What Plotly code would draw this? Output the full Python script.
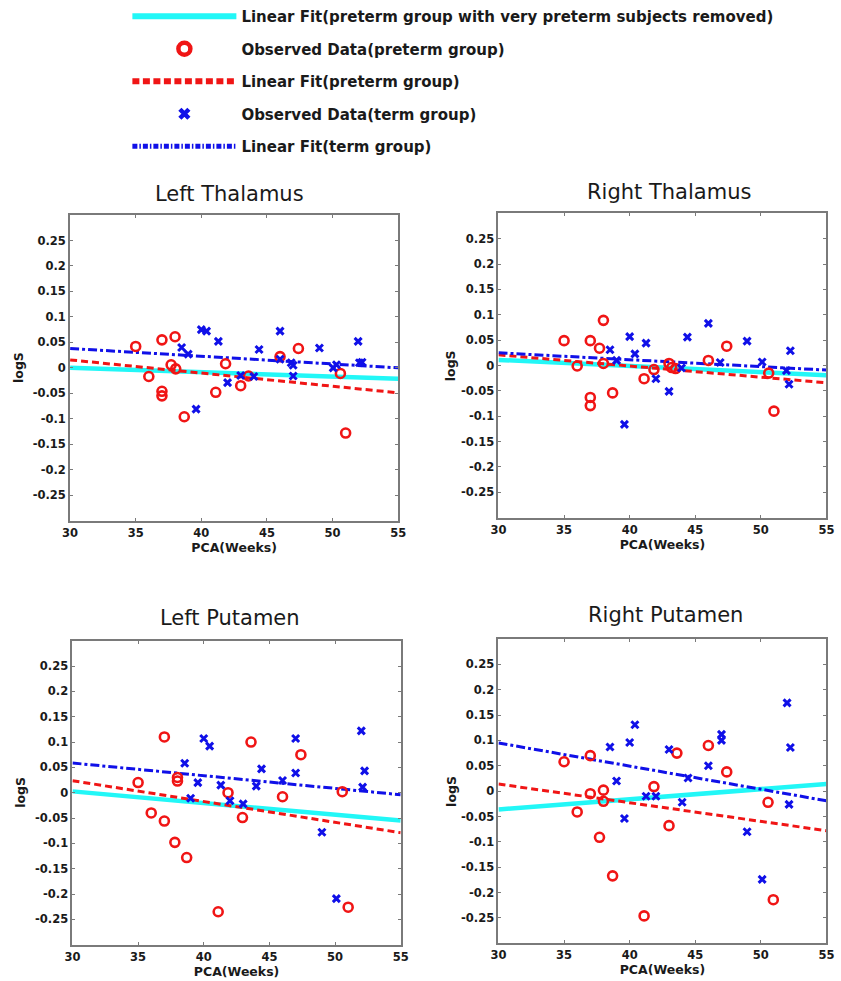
import plotly.graph_objects as go

# ---------------- data ----------------
titles = ["Left Thalamus", "Right Thalamus", "Left Putamen", "Right Putamen"]

x_ticks = [30, 35, 40, 45, 50, 55]
y_ticks = [0.25, 0.2, 0.15, 0.1, 0.05, 0, -0.05, -0.1, -0.15, -0.2, -0.25]
y_tick_text = ["0.25", "0.2", "0.15", "0.1", "0.05", "0", "-0.05", "-0.1", "-0.15", "-0.2", "-0.25"]

fit_x = [30, 55]

# Left Thalamus
lt_pre_x = [35.0, 36.0, 37.0, 37.0, 37.0, 38.0, 37.7, 38.05, 38.7, 41.1, 41.85, 43.0, 43.6, 46.0, 47.4, 50.6, 51.0]
lt_pre_y = [0.042, -0.017, 0.055, -0.046, -0.055, 0.061, 0.006, -0.002, -0.096, -0.048, 0.008, -0.035, -0.016, 0.022, 0.038, -0.011, -0.128]
lt_term_x = [38.5, 39.0, 39.6, 40.0, 40.4, 41.3, 42.0, 43.0, 44.0, 44.4, 46.0, 46.0, 46.85, 47.0, 47.0, 49.0, 50.05, 50.3, 51.95, 52.05, 52.25]
lt_term_y = [0.040, 0.027, -0.081, 0.075, 0.072, 0.052, -0.029, -0.015, -0.017, 0.036, 0.072, 0.017, 0.010, 0.005, -0.016, 0.039, 0.000, 0.006, 0.052, 0.010, 0.011]
lt_fit_removed = [0.0, -0.0215]
lt_fit_pre = [0.0156, -0.049]
lt_fit_term = [0.038, 0.0]

# Right Thalamus
rt_pre_x = [35.0, 36.0, 37.0, 37.0, 37.0, 37.7, 38.0, 38.0, 38.7, 41.1, 41.85, 43.0, 43.2, 43.5, 46.0, 47.4, 50.6, 51.0]
rt_pre_y = [0.049, -0.001, 0.049, -0.063, -0.079, 0.034, 0.089, 0.004, -0.054, -0.026, -0.008, 0.004, -0.004, -0.006, 0.010, 0.038, -0.015, -0.090]
rt_term_x = [38.5, 39.0, 39.6, 40.0, 40.4, 41.25, 42.0, 43.0, 43.95, 44.4, 46.0, 46.9, 48.95, 50.1, 51.95, 52.15, 52.25]
rt_term_y = [0.031, 0.010, -0.116, 0.057, 0.023, 0.044, -0.026, -0.051, -0.005, 0.056, 0.083, 0.006, 0.048, 0.007, -0.010, -0.037, 0.029]
rt_fit_removed = [0.011, -0.019]
rt_fit_pre = [0.021, -0.034]
rt_fit_term = [0.025, -0.009]

# Left Putamen
lp_pre_x = [35.0, 36.0, 37.0, 37.0, 37.8, 38.0, 38.0, 38.7, 41.1, 41.85, 42.95, 43.6, 46.0, 47.4, 50.55, 51.0]
lp_pre_y = [0.020, -0.040, 0.110, -0.056, -0.098, 0.030, 0.023, -0.128, -0.235, 0.000, -0.049, 0.100, -0.008, 0.075, 0.002, -0.226]
lp_term_x = [38.55, 39.0, 39.55, 40.0, 40.45, 41.3, 42.0, 43.0, 44.0, 44.4, 46.0, 47.0, 47.0, 49.0, 50.1, 52.0, 52.1, 52.25]
lp_term_y = [0.058, -0.011, 0.020, 0.107, 0.092, 0.015, -0.016, -0.022, 0.013, 0.047, 0.024, 0.107, 0.039, -0.078, -0.209, 0.122, 0.011, 0.043]
lp_fit_removed = [0.0026, -0.055]
lp_fit_pre = [0.0237, -0.079]
lp_fit_term = [0.0586, -0.004]

# Right Putamen
rp_pre_x = [35.0, 36.0, 37.0, 37.0, 37.7, 38.0, 38.0, 38.7, 41.1, 41.85, 43.0, 43.6, 46.0, 47.4, 50.55, 50.95]
rp_pre_y = [0.058, -0.041, 0.070, -0.005, -0.091, 0.002, -0.020, -0.167, -0.246, 0.009, -0.068, 0.075, 0.090, 0.038, -0.022, -0.214]
rp_term_x = [38.5, 39.0, 39.6, 40.0, 40.4, 41.25, 42.0, 43.0, 44.0, 44.45, 46.0, 47.0, 47.0, 48.95, 50.1, 52.0, 52.15, 52.25]
rp_term_y = [0.087, 0.020, -0.054, 0.096, 0.131, -0.010, -0.010, 0.082, -0.022, 0.026, 0.050, 0.112, 0.100, -0.080, -0.174, 0.174, -0.026, 0.086]
rp_fit_removed = [-0.036, 0.014]
rp_fit_pre = [0.014, -0.078]
rp_fit_term = [0.095, -0.019]

legend_names = [
    "Linear Fit(preterm group with very preterm subjects removed)",
    "Observed Data(preterm group)",
    "Linear Fit(preterm group)",
    "Observed Data(term group)",
    "Linear Fit(term group)",
]

panels = [
    (lt_pre_x, lt_pre_y, lt_term_x, lt_term_y, lt_fit_removed, lt_fit_pre, lt_fit_term),
    (rt_pre_x, rt_pre_y, rt_term_x, rt_term_y, rt_fit_removed, rt_fit_pre, rt_fit_term),
    (lp_pre_x, lp_pre_y, lp_term_x, lp_term_y, lp_fit_removed, lp_fit_pre, lp_fit_term),
    (rp_pre_x, rp_pre_y, rp_term_x, rp_term_y, rp_fit_removed, rp_fit_pre, rp_fit_term),
]

# ---------------- layout geometry (pixels) ----------------
W, H = 841, 981
# left, right, top, bottom of each plot box
boxes = [
    (63.3, 397.7, 215.0, 520.7),
    (500.0, 834.3, 213.3, 517.7),
    (65.7, 400.3, 640.7, 944.7),
    (500.0, 834.3, 639.0, 943.3),
]
title_shift = [(-5, 21), (7, 21), (-7, 23), (3, 24)]
# right edge of the rotated "logS" label, in figure pixels from the left edge
ylabel_px = [21, 461, 23, 461]

CYAN = "#22f7f7"
RED = "#f01515"
BLUE = "#1010e8"
AXC = "#7a7a7a"
TXT = "#1a1a1a"
BOLD = dict(family="DejaVu Sans", weight="bold", color=TXT)

fig = go.Figure()

# legend-only entries (drawn heavier, as in the reference legend)
legend_styles = [
    dict(mode="lines", line=dict(color=CYAN, width=6)),
    dict(mode="markers", marker=dict(symbol="circle-open", size=12, color=RED, line=dict(width=4.5, color=RED))),
    dict(mode="lines", line=dict(color=RED, width=6, dash="7px,3.5px")),
    dict(mode="markers", marker=dict(symbol="x-thin", size=9, color=BLUE, line=dict(width=4.5, color=BLUE))),
    dict(mode="lines", line=dict(color=BLUE, width=5, dash="5px,2px,1.5px,2px")),
]
for k, st in enumerate(legend_styles):
    fig.add_trace(go.Scatter(x=[None], y=[None], name=legend_names[k], legendgroup=f"g{k}",
                             showlegend=True, legendrank=k + 1, hoverinfo="skip", **st))

for i, (px, py, tx, ty, f_rem, f_pre, f_term) in enumerate(panels):
    xa = "x" if i == 0 else f"x{i+1}"
    ya = "y" if i == 0 else f"y{i+1}"
    fig.add_trace(go.Scatter(
        x=fit_x, y=f_rem, mode="lines", xaxis=xa, yaxis=ya,
        line=dict(color=CYAN, width=4.5), name=legend_names[0], showlegend=False))
    fig.add_trace(go.Scatter(
        x=fit_x, y=f_pre, mode="lines", xaxis=xa, yaxis=ya,
        line=dict(color=RED, width=3, dash="7px,4px"), name=legend_names[2], showlegend=False))
    fig.add_trace(go.Scatter(
        x=fit_x, y=f_term, mode="lines", xaxis=xa, yaxis=ya,
        line=dict(color=BLUE, width=3, dash="9px,3px,3px,3px"), name=legend_names[4], showlegend=False))
    fig.add_trace(go.Scatter(
        x=px, y=py, mode="markers", xaxis=xa, yaxis=ya,
        marker=dict(symbol="circle-open", size=9, color=RED, line=dict(width=2.6, color=RED)),
        name=legend_names[1], showlegend=False))
    fig.add_trace(go.Scatter(
        x=tx, y=ty, mode="markers", xaxis=xa, yaxis=ya,
        marker=dict(symbol="x-thin", size=7, color=BLUE, line=dict(width=3, color=BLUE)),
        name=legend_names[3], showlegend=False))

    l, r, t, b = boxes[i]
    xkey = "xaxis" if i == 0 else f"xaxis{i+1}"
    ykey = "yaxis" if i == 0 else f"yaxis{i+1}"
    fig.update_layout(**{
        xkey: dict(
            domain=[l / W, r / W], range=[30, 55], anchor=ya,
            tickvals=x_ticks, ticks="inside", ticklen=3, tickcolor=AXC,
            showline=True, linecolor=AXC, linewidth=2, mirror="ticks",
            showgrid=False, zeroline=False,
            tickfont=dict(size=11.5, **BOLD),
            title=dict(text="PCA(Weeks)", font=dict(size=12.5, **BOLD), standoff=4),
        ),
        ykey: dict(
            domain=[(H - b) / H, (H - t) / H], range=[-0.3, 0.3], anchor=xa,
            tickvals=y_ticks, ticktext=y_tick_text, ticks="inside", ticklen=3, tickcolor=AXC,
            showline=True, linecolor=AXC, linewidth=2, mirror="ticks",
            showgrid=False, zeroline=False,
            tickfont=dict(size=11.5, **BOLD),
        ),
    })
    dx, dy = title_shift[i]
    fig.add_annotation(
        text=titles[i], xref=f"{xa} domain", yref=f"{ya} domain", x=0.5, y=1,
        xanchor="center", yanchor="middle", xshift=dx, yshift=dy, showarrow=False,
        font=dict(family="DejaVu Sans", size=21, color=TXT))
    fig.add_annotation(
        text="logS", xref="paper", yref=f"{ya} domain", x=ylabel_px[i] / W, y=0.5,
        xanchor="right", yanchor="middle", textangle=-90, showarrow=False,
        font=dict(size=12.5, **BOLD))

fig.update_layout(
    width=W, height=H,
    margin=dict(l=0, r=0, t=0, b=0),
    paper_bgcolor="white", plot_bgcolor="white",
    showlegend=True,
    legend=dict(
        x=121.7 / W, y=1.0, xanchor="left", yanchor="top",
        itemwidth=104, tracegroupgap=10, traceorder="grouped",
        font=dict(size=15, **BOLD), bgcolor="rgba(0,0,0,0)",
    ),
)

fig.write_html("out.html")
